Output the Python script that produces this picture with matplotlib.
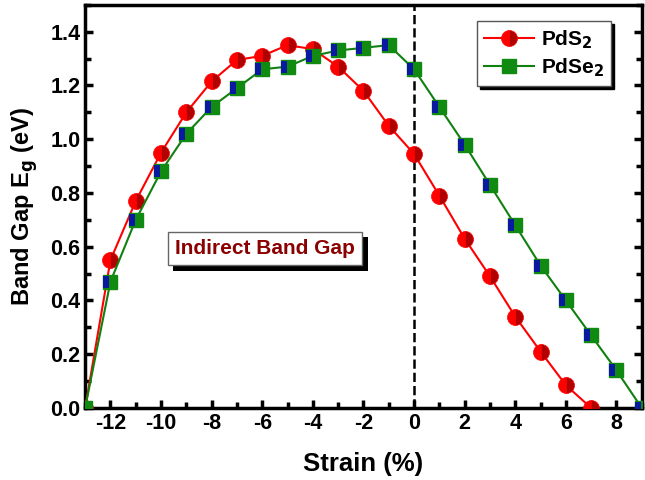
import numpy as np
import matplotlib
matplotlib.use("Agg")
import matplotlib.pyplot as plt
import matplotlib.patheffects as pe
from matplotlib.path import Path
from matplotlib.ticker import MultipleLocator

plt.rcParams['font.family'] = ['Liberation Sans', 'DejaVu Sans']
plt.rcParams['font.weight'] = 'bold'
plt.rcParams['axes.unicode_minus'] = False

strain = [-13, -12, -11, -10, -9, -8, -7, -6, -5, -4, -3, -2, -1,
          0, 1, 2, 3, 4, 5, 6, 7, 8, 9]
pds2 = [0.0, 0.55, 0.77, 0.95, 1.10, 1.215, 1.295, 1.31, 1.35, 1.335, 1.27,
        1.18, 1.05, 0.945, 0.79, 0.63, 0.49, 0.34, 0.21, 0.085, 0.0]
pdse2 = [0.0, 0.47, 0.70, 0.88, 1.02, 1.12, 1.19, 1.26, 1.27, 1.31, 1.33,
         1.34, 1.35, 1.26, 1.12, 0.98, 0.83, 0.68, 0.53, 0.40, 0.27, 0.14, 0.0]
x_ticks = [-12, -10, -8, -6, -4, -2, 0, 2, 4, 6, 8]
y_ticks = [0.0, 0.2, 0.4, 0.6, 0.8, 1.0, 1.2, 1.4]

fig = plt.figure(figsize=(6.45, 4.8), dpi=100)
ax = fig.add_axes([0.132, 0.15, 0.863, 0.84])

x_s = strain[:len(pds2)]
ax.plot(x_s, pds2, color='red', lw=1.5, marker='o', ms=11.5,
        markerfacecolor='red', markerfacecoloralt='#b00000', fillstyle='left',
        markeredgecolor='red', markeredgewidth=0.5, label='PdS$_\\mathbf{2}$',
        zorder=3)

# blue strip inside the green square markers
strip = Path([(-1, -0.9), (-0.1, -0.9), (-0.1, 0.9), (-1, 0.9), (-1, -0.9)],
             [Path.MOVETO, Path.LINETO, Path.LINETO, Path.LINETO, Path.CLOSEPOLY])
ax.plot(strain, pdse2, color='#108010', lw=1.5, marker='s', ms=10,
        markerfacecolor='#118a11', markeredgecolor='#118a11',
        label='PdSe$_\\mathbf{2}$', zorder=4)
ax.plot(strain, pdse2, ls='none', marker=strip, ms=10,
        markerfacecolor='#0a1aa0', markeredgecolor='#0a1aa0', markeredgewidth=0,
        zorder=5)

ax.axvline(0, color='black', ls='--', lw=1.8, zorder=1)

ax.set_xlim(-13, 9)
ax.set_ylim(0, 1.5)
ax.set_xticks(x_ticks)
ax.xaxis.set_minor_locator(MultipleLocator(1))
ax.set_yticks(y_ticks)
ax.yaxis.set_minor_locator(MultipleLocator(0.1))
ax.set_yticklabels(['%.1f' % v for v in y_ticks])
ax.tick_params(which='both', direction='in', top=False, right=True,
               labelsize=15.5, width=2.5)
ax.tick_params(which='major', length=6)
ax.tick_params(which='minor', length=4)
for s in ax.spines.values():
    s.set_linewidth(2.5)

ax.set_xlabel('Strain (%)', fontsize=18.5, fontweight='bold', labelpad=13)
ax.set_ylabel('Band Gap E$_\\mathbf{g}$ (eV)', fontsize=17, fontweight='bold',
              labelpad=7)

handles, labels = ax.get_legend_handles_labels()
leg = ax.legend(handles[:2], labels[:2], loc='upper right',
                bbox_to_anchor=(0.945, 0.96), fontsize=15,
                fancybox=False, shadow={'color': 'black', 'alpha': 1},
                edgecolor='#555555', handlelength=2.4, borderpad=0.35,
                labelspacing=0.25, handletextpad=0.3, borderaxespad=0)
leg.get_frame().set_linewidth(1)

t = ax.text(-5.9, 0.593, 'Indirect Band Gap', color='#8b0000', fontsize=15,
            fontweight='bold', ha='center', va='center',
            bbox=dict(boxstyle='square,pad=0.35', facecolor='white',
                      edgecolor='#666666', lw=1))
t.get_bbox_patch().set_path_effects([
    pe.SimplePatchShadow(offset=(4, -4), shadow_rgbFace='black', alpha=1),
    pe.Normal()])

fig.savefig('out.png', dpi=100)
